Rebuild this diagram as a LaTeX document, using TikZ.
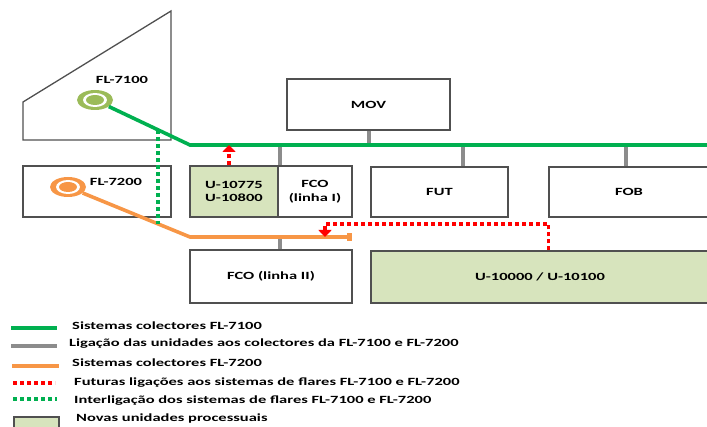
\documentclass[tikz,border=0pt]{standalone}
\usepackage{fontspec}
\setmainfont{Carlito}[FakeStretch=1.5]
\usetikzlibrary{arrows.meta,shapes.geometric}
\definecolor{colgreen}{RGB}{0,176,80}
\definecolor{colorange}{RGB}{247,150,70}
\definecolor{colgray}{RGB}{140,140,140}
\definecolor{cololive}{RGB}{155,187,89}
\definecolor{newunit}{RGB}{215,228,189}
\definecolor{boxgray}{RGB}{80,80,80}
\tikzset{
  unit/.style={draw=boxgray,line width=1.3pt,align=center,inner sep=0pt},
  newbox/.style={unit,fill=newunit},
  col71/.style={colgreen,line width=3.6pt},
  col72/.style={colorange,line width=3.6pt},
  link/.style={colgray,line width=4pt},
  future/.style={red,line width=3.6pt,dash pattern=on 4pt off 3pt},
  inter/.style={colgreen,line width=3.6pt,dash pattern=on 4pt off 3pt},
  flare/.style={ellipse,minimum width=36pt,minimum height=20pt,inner sep=0pt},
  tag/.style={anchor=west,inner sep=0pt}
}
\begin{document}
\begin{tikzpicture}[x=1pt,y=-1pt,every node/.style={font=\bfseries\fontsize{11}{13.5}\selectfont}]
  \useasboundingbox (0,0) rectangle (707,427);
  % flares
  \draw[boxgray,line width=1.3pt] (23,102) -- (171,11) -- (171,140) -- (23,140) -- cycle;
  \node[unit,minimum width=148pt,minimum height=51pt] (b72) at (97,191.5) {};
  \node (t71) at (122,80) {FL-7100};
  \node (t72) at (116,182) {FL-7200};
  \node[flare,fill=cololive] (c71) at (95,100) {};
  \fill[white] (c71) ellipse (12pt and 7pt);
  \fill[cololive] (c71) ellipse (9pt and 5pt);
  \node[flare,fill=colorange] (c72) at (68,187) {};
  \fill[white] (c72) ellipse (12pt and 7pt);
  \fill[colorange] (c72) ellipse (9pt and 5pt);
  % unidades
  \node[unit,minimum width=163pt,minimum height=51pt] (mov) at (368.5,104.5) {MOV};
  \node[newbox,minimum width=88pt,minimum height=51pt] (u1) at (234,191.5) {U-10775\\U-10800};
  \node[unit,minimum width=74pt,minimum height=51pt] (fco1) at (315,191.5) {FCO\\(linha I)};
  \node[unit,minimum width=137pt,minimum height=50pt] (fut) at (439.5,192) {FUT};
  \node[unit,minimum width=160pt,minimum height=50pt] (fob) at (629,192) {FOB};
  \node[unit,minimum width=162pt,minimum height=53pt] (fco2) at (271,276.5) {FCO (linha II)};
  \node[newbox,minimum width=338pt,minimum height=52pt] (big) at (540,277) {U-10000 / U-10100};
  \coordinate (j1) at (190,145);
  \coordinate (bus) at (710,145);
  \coordinate (j2) at (190,237);
  \coordinate (oend) at (352,237);
  \coordinate (gd1) at (158,130);
  \coordinate (gd2) at (158,224);
  \coordinate (rturn) at (325,224);
  \coordinate (rdrop) at (325,237);
  % ligacoes
  \draw[link] (mov.south) -- (mov.south |- j1);
  \draw[link] ([xshift=23.5pt]fut.north) -- ([xshift=23.5pt]fut.north |- j1);
  \draw[link] ([xshift=-3pt]fob.north) -- ([xshift=-3pt]fob.north |- j1);
  \draw[link] ([xshift=3pt]fco1.north west) -- ([xshift=3pt]fco1.north west |- j1);
  \draw[link] ([xshift=3pt]fco1.south west |- fco2.north) -- ([xshift=3pt]fco1.south west |- j2);
  \draw[col71] (c71) -- (j1) -- (bus);
  \draw[col72,-{Square[length=5pt,width=8pt]}] (c72) -- (j2) -- (oend);
  \draw[inter] (gd1) -- (gd2);
  \draw[future,-{Triangle[width=13pt,length=7pt]}] ([xshift=-5pt]u1.north) -- ([xshift=-5pt]u1.north |- j1);
  \draw[future,-{Triangle[width=13pt,length=7pt]}] (big.north -| fob.west) |- (rturn) -- (rdrop);
  % legenda
  \draw[col71] (11,328) -- (57,328);
  \draw[link] (11,346) -- (57,346);
  \draw[col72] (12,366) -- (59,366);
  \draw[future] (13,383) -- (55,383);
  \draw[inter] (13,399) -- (57,399);
  \node[newbox,minimum width=45pt,minimum height=18pt] (leg) at (36.5,426) {};
  \node[tag] (l1) at (72,326) {Sistemas colectores FL-7100};
  \node[tag] (l2) at (69,344) {Ligação das unidades aos colectores da FL-7100 e FL-7200};
  \node[tag] (l3) at (72,363) {Sistemas colectores FL-7200};
  \node[tag] (l4) at (74,383) {Futuras ligações aos sistemas de flares FL-7100 e FL-7200};
  \node[tag] (l5) at (74,401) {Interligação dos sistemas de flares FL-7100 e FL-7200};
  \node[tag] (l6) at (76,419) {Novas unidades processuais};
\end{tikzpicture}
\end{document}
